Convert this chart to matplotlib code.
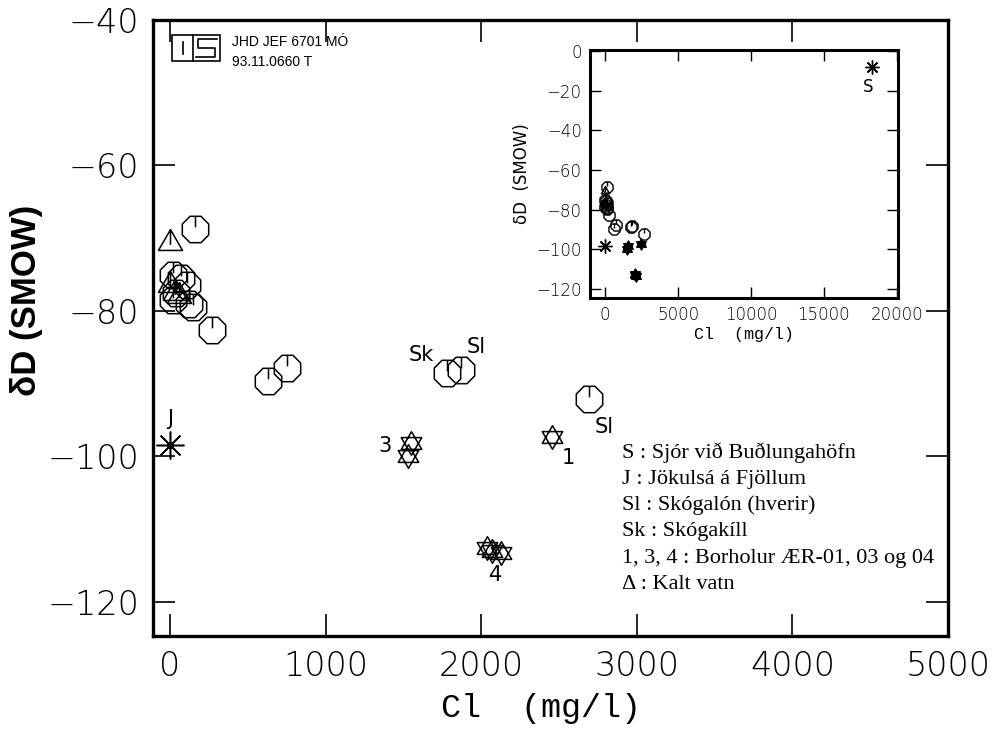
import numpy as np
import matplotlib
matplotlib.use('Agg')
import matplotlib.pyplot as plt
import matplotlib.path as mpath
from matplotlib.patches import Rectangle
from matplotlib.lines import Line2D

# data (Cl mg/l, dD permil SMOW)
circ_cl = [160, 20, 70, 110, 40, 20, 120, 150, 270, 628, 750, 1782, 1872, 2692]
circ_dd = [-68.8, -75.0, -75.5, -76.5, -77.5, -78.5, -79.0, -79.5, -82.6,
           -89.7, -87.9, -88.6, -88.1, -92.1]
tri_cl = [0, 0, 30, 60]
tri_dd = [-70.7, -76.5, -77.5, -78.0]
well_cl = [1551, 1526, 2455, 2038, 2128, 2071]
well_dd = [-98.2, -100.0, -97.3, -112.6, -113.3, -113.0]
jok_cl, jok_dd = [0], [-98.4]
sea_cl, sea_dd = [18300], [-8.0]

legend_lines = ["S : Sjór við Buðlungahöfn",
                "J : Jökulsá á Fjöllum",
                "Sl : Skógalón (hverir)",
                "Sk : Skógakíll",
                "1, 3, 4 : Borholur ÆR-01, 03 og 04",
                "Δ : Kalt vatn"]

W, H = 997, 729


def fx(x):
    return x / W


def fy(y):
    return 1 - y / H


# custom marker shapes
a = np.deg2rad(22.5 + 45 * np.arange(8))
octv = list(zip(np.cos(a), np.sin(a)))
top = np.cos(np.deg2rad(22.5))
oct_marker = mpath.Path(octv + [octv[0], (0, top), (0, 0.15)],
                        [1] + [2] * 7 + [79, 1, 2])

t_up = [(np.cos(np.deg2rad(d)), np.sin(np.deg2rad(d))) for d in (90, 210, 330)]
t_dn = [(np.cos(np.deg2rad(d)), np.sin(np.deg2rad(d))) for d in (270, 30, 150)]
star_marker = mpath.Path(t_up + [t_up[0]] + t_dn + [t_dn[0]],
                         [1, 2, 2, 79, 1, 2, 2, 79])
tri_marker = mpath.Path(t_up + [t_up[0], (0, 1), (0, -0.1)],
                        [1, 2, 2, 79, 1, 2])

fig = plt.figure(figsize=(W / 100, H / 100), dpi=100)
ax = fig.add_axes([fx(153), fy(636), fx(948) - fx(153), fy(20) - fy(636)])

ax.plot(circ_cl, circ_dd, ls='none', marker=oct_marker, ms=19, mfc='none',
        mec='black', mew=1.1)
ax.plot(tri_cl, tri_dd, ls='none', marker=tri_marker, ms=20, mfc='none',
        mec='black', mew=1.1)
ax.plot(well_cl, well_dd, ls='none', marker=star_marker, ms=17, mfc='none',
        mec='black', mew=1.1)
ax.plot(jok_cl, jok_dd, ls='none', marker=(8, 2, 0), ms=20, mec='black', mew=1.1)
ax.plot(jok_cl, jok_dd, ls='none', marker='o', ms=4, color='black')

lab = dict(fontsize=15, family='DejaVu Sans', ha='center', va='center')
ax.text(0, -94.9, 'J', **lab)
ax.text(1615, -86.0, 'Sk', **lab)
ax.text(1968, -84.9, 'Sl', **lab)
ax.text(2790, -95.9, 'Sl', **lab)
ax.text(1380, -98.6, '3', **lab)
ax.text(2560, -100.2, '1', **lab)
ax.text(2090, -116.3, '4', **lab)

ax.set_xlim(-110, 4990)
ax.set_ylim(-124.7, -40.3)
ax.set_xticks([0, 1000, 2000, 3000, 4000, 5000])
ax.set_yticks([-40, -60, -80, -100, -120])
ax.set_xticklabels(['0', '1000', '2000', '3000', '4000', '5000'])
ax.set_yticklabels(['\u221240', '\u221260', '\u221280', '\u2212100', '\u2212120'])
ax.tick_params(direction='in', length=16, width=1.2, top=True, right=True,
               labelsize=24, pad=10)
for lbl in ax.get_xticklabels() + ax.get_yticklabels():
    lbl.set_fontweight('light')
for s in ax.spines.values():
    s.set_linewidth(2.4)

fig.text(fx(541), fy(708), 'Cl  (mg/l)', fontsize=24, family='Liberation Mono',
         ha='center', va='center')
fig.text(fx(27), fy(300), 'δD (SMOW)', fontsize=25, fontweight='bold',
         family='Liberation Sans', rotation=90, ha='center', va='center')

# legend text block
for i, t in enumerate(legend_lines):
    fig.text(fx(622), fy(453 + i * 26.3), t, fontsize=16,
             family='Liberation Serif', ha='left', va='center')

# logo and stamp
fig.add_artist(Rectangle((fx(172), fy(61)), fx(220) - fx(172), fy(35) - fy(61),
                         fill=False, lw=1.2, color='black', transform=fig.transFigure))
for xs, ys in [([193, 193], [35, 61]),
               ([183, 183], [42, 54]),
               ([217, 198, 198, 215, 215, 196], [39, 39, 48, 48, 57, 57])]:
    fig.add_artist(Line2D([fx(v) for v in xs], [fy(v) for v in ys],
                          lw=1.2, color='black', transform=fig.transFigure))
fig.text(fx(232), fy(42), 'JHD JEF 6701 MÓ', fontsize=10,
         family='Liberation Sans', va='center')
fig.text(fx(232), fy(62), '93.11.0660 T', fontsize=10,
         family='Liberation Sans', va='center')

# inset with seawater point
ins = fig.add_axes([fx(590), fy(298), fx(898) - fx(590), fy(50) - fy(298)])
ins.plot(circ_cl, circ_dd, ls='none', marker=oct_marker, ms=8, mfc='none',
         mec='black', mew=1.0)
ins.plot(tri_cl, tri_dd, ls='none', marker=tri_marker, ms=7, mfc='none',
         mec='black', mew=1.0)
ins.plot(well_cl, well_dd, ls='none', marker=star_marker, ms=8, mfc='black',
         mec='black', mew=1.0)
ins.plot(jok_cl + sea_cl, jok_dd + sea_dd, ls='none', marker=(8, 2, 0), ms=10,
         mec='black', mew=1.0)
ins.text(sea_cl[0] - 250, sea_dd[0] - 10, 'S', fontsize=12, ha='center', va='center')
ins.set_xlim(-1030, 20070)
ins.set_ylim(-124.5, 0.5)
ins.set_xticks([0, 5000, 10000, 15000, 20000])
ins.set_yticks([0, -20, -40, -60, -80, -100, -120])
ins.set_yticklabels(['0', '\u221220', '\u221240', '\u221260', '\u221280',
                     '\u2212100', '\u2212120'])
ins.tick_params(direction='in', length=8, width=1.0, top=True, right=True,
                labelsize=12, pad=6)
for lbl in ins.get_xticklabels() + ins.get_yticklabels():
    lbl.set_fontweight('light')
for s in ins.spines.values():
    s.set_linewidth(2.2)
ins.set_xlabel('Cl  (mg/l)', fontsize=12, family='Liberation Mono', labelpad=2)
ins.set_ylabel('δD  (SMOW)', fontsize=12, labelpad=4)

fig.savefig('out.png', dpi=100)
